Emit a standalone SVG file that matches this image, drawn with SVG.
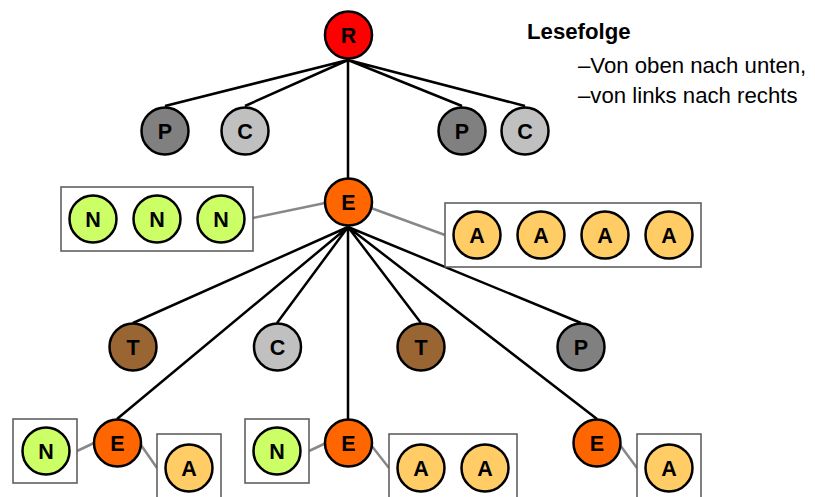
<svg xmlns="http://www.w3.org/2000/svg" width="815" height="497" viewBox="0 0 815 497">
<style>
.n circle{stroke:#000;stroke-width:2.5}
.n text{font-family:"Liberation Sans",Arial,sans-serif;font-weight:bold;font-size:21.5px;text-anchor:middle;fill:#000}
.box{fill:#fff;stroke:#555;stroke-width:1.5}
.e{stroke:#000;stroke-width:2.5;fill:none}
.g{stroke:#888;stroke-width:2.5;fill:none}
.R{fill:#ff0000}.P{fill:#808080}.C{fill:#c0c0c0}.E{fill:#ff6600}.N{fill:#ccff66}.A{fill:#ffcc66}.T{fill:#996633}
.lg{font-family:"Liberation Sans",Arial,sans-serif;font-size:22.2px;fill:#000}
</style>
<rect width="815" height="497" fill="#fff"/>
<g id="connectors">
<path class="e" d="M348,60 L165,106 M348,60 L245,106 M348,60 L348,178 M348,60 L462,106 M348,60 L525,106"/>
<path class="e" d="M348,227 L133,323 M348,227 L277,323 M348,227 L421,323 M348,227 L581,323 M348,227 L117,419 M348,227 L348,419 M348,227 L597,419"/>
<path class="g" d="M253,218 L325,203 M371,208 L445,235 M77,451 L94,443 M141,445 L157,468 M309,451 L326,443 M371,445 L389,468 M620,445 L637,468"/>
</g>
<g id="box-N1"><rect class="box" x="61" y="187" width="192" height="64"/></g>
<g id="box-A1"><rect class="box" x="445" y="203" width="256" height="64"/></g>
<g id="box-N2"><rect class="box" x="13" y="419" width="64" height="64"/></g>
<g id="box-A2"><rect class="box" x="157" y="434" width="64" height="70"/></g>
<g id="box-N3"><rect class="box" x="245" y="419" width="64" height="64"/></g>
<g id="box-A3"><rect class="box" x="389" y="434" width="128" height="70"/></g>
<g id="box-A4"><rect class="box" x="637" y="434" width="64" height="70"/></g>
<g id="node-R" class="n"><circle class="R" cx="348.5" cy="35" r="23.5"/><text x="348.5" y="42.5">R</text></g>
<g id="node-P1" class="n"><circle class="P" cx="165" cy="131" r="23.5"/><text x="165" y="138.5">P</text></g>
<g id="node-C1" class="n"><circle class="C" cx="245" cy="131" r="23.5"/><text x="245" y="138.5">C</text></g>
<g id="node-P2" class="n"><circle class="P" cx="462" cy="131" r="23.5"/><text x="462" y="138.5">P</text></g>
<g id="node-C2" class="n"><circle class="C" cx="525" cy="131" r="23.5"/><text x="525" y="138.5">C</text></g>
<g id="node-E" class="n"><circle class="E" cx="348.5" cy="202" r="23.5"/><text x="348.5" y="209.5">E</text></g>
<g id="node-N1" class="n"><circle class="N" cx="93" cy="219" r="23.5"/><text x="93" y="226.5">N</text></g>
<g id="node-N2" class="n"><circle class="N" cx="157" cy="219" r="23.5"/><text x="157" y="226.5">N</text></g>
<g id="node-N3" class="n"><circle class="N" cx="221" cy="219" r="23.5"/><text x="221" y="226.5">N</text></g>
<g id="node-A1" class="n"><circle class="A" cx="477" cy="235" r="23.5"/><text x="477" y="242.5">A</text></g>
<g id="node-A2" class="n"><circle class="A" cx="541" cy="235" r="23.5"/><text x="541" y="242.5">A</text></g>
<g id="node-A3" class="n"><circle class="A" cx="605" cy="235" r="23.5"/><text x="605" y="242.5">A</text></g>
<g id="node-A4" class="n"><circle class="A" cx="669" cy="235" r="23.5"/><text x="669" y="242.5">A</text></g>
<g id="node-T1" class="n"><circle class="T" cx="133" cy="347" r="23.5"/><text x="133" y="354.5">T</text></g>
<g id="node-C3" class="n"><circle class="C" cx="277.5" cy="347" r="23.5"/><text x="277.5" y="354.5">C</text></g>
<g id="node-T2" class="n"><circle class="T" cx="421" cy="347" r="23.5"/><text x="421" y="354.5">T</text></g>
<g id="node-P3" class="n"><circle class="P" cx="581" cy="347" r="23.5"/><text x="581" y="354.5">P</text></g>
<g id="node-E1" class="n"><circle class="E" cx="117.5" cy="443" r="23.5"/><text x="117.5" y="450.5">E</text></g>
<g id="node-E2" class="n"><circle class="E" cx="348.5" cy="443" r="23.5"/><text x="348.5" y="450.5">E</text></g>
<g id="node-E3" class="n"><circle class="E" cx="597" cy="443" r="23.5"/><text x="597" y="450.5">E</text></g>
<g id="node-N4" class="n"><circle class="N" cx="46" cy="451" r="23.5"/><text x="46" y="458.5">N</text></g>
<g id="node-N5" class="n"><circle class="N" cx="277" cy="451" r="23.5"/><text x="277" y="458.5">N</text></g>
<g id="node-A5" class="n"><circle class="A" cx="189" cy="468" r="23.5"/><text x="189" y="475.5">A</text></g>
<g id="node-A6" class="n"><circle class="A" cx="421" cy="468" r="23.5"/><text x="421" y="475.5">A</text></g>
<g id="node-A7" class="n"><circle class="A" cx="485" cy="468" r="23.5"/><text x="485" y="475.5">A</text></g>
<g id="node-A8" class="n"><circle class="A" cx="669" cy="468" r="23.5"/><text x="669" y="475.5">A</text></g>
<g id="legend">
<text class="lg" x="527" y="39" font-weight="bold">Lesefolge</text>
<text class="lg" x="578" y="73">–Von oben nach unten,</text>
<text class="lg" x="578" y="103">–von links nach rechts</text>
</g>
</svg>
